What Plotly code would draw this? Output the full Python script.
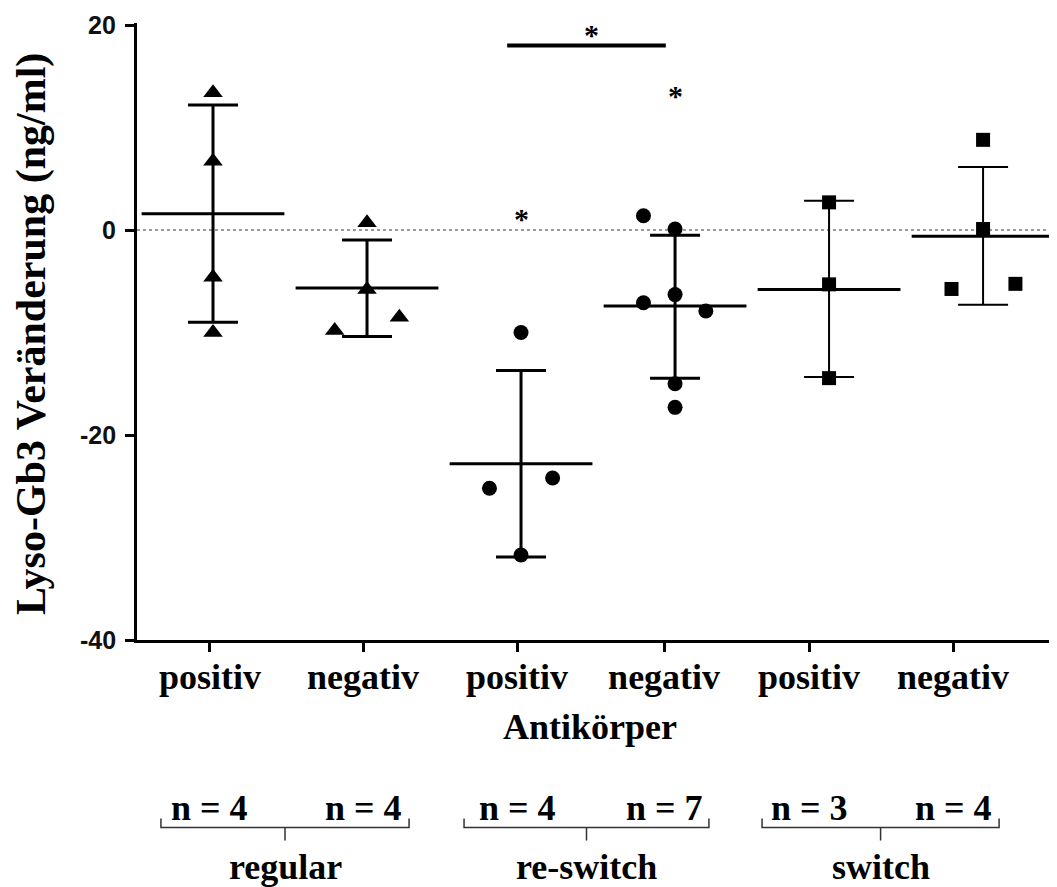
import plotly.graph_objects as go

# ---- data ----
antibody = ["positiv", "negativ", "positiv", "negativ", "positiv", "negativ"]
cohort = ["regular", "re-switch", "switch"]
n_counts = [4, 4, 4, 7, 3, 4]

reg_pos = [13.4, 6.7, -4.6, -10.0]
reg_neg = [0.7, -5.8, -8.5, -9.8]
rsw_pos = [-10.0, -25.2, -24.2, -31.7]
rsw_neg = [1.4, 0.1, -6.3, -7.1, -7.9, -15.0, -17.3]
sw_pos = [2.7, -5.3, -14.45]
sw_neg = [8.8, 0.1, -5.75, -5.25]

# horizontal scatter offsets of points within a column
reg_pos_dx = [0, 0, 0, 0]
reg_neg_dx = [0, 0, 0.21, -0.21]
rsw_pos_dx = [0, -0.205, 0.205, 0]
rsw_neg_dx = [-0.205, 0, 0, -0.205, 0.2, 0, 0]
sw_pos_dx = [0, 0, 0]
sw_neg_dx = [0, 0, -0.205, 0.21]

means = [1.6, -5.65, -22.8, -7.4, -5.8, -0.6]
sd_hi = [12.2, -0.97, -13.7, -0.5, 2.85, 6.16]
sd_lo = [-9.0, -10.4, -31.9, -14.45, -14.35, -7.3]

y_ticks = [-40, -20, 0, 20]

# ---- layout helpers ----
tick_pos = [-0.02, 0.974, 1.974, 2.929, 3.87, 4.805]
bracket_spans = [(-0.338, 1.273), (1.63, 3.22), (3.565, 5.104)]

series = [reg_pos, reg_neg, rsw_pos, rsw_neg, sw_pos, sw_neg]
offsets = [reg_pos_dx, reg_neg_dx, rsw_pos_dx, rsw_neg_dx, sw_pos_dx, sw_neg_dx]
symbols = ["triangle-up", "triangle-up", "circle", "circle", "square", "square"]
sizes = [17, 17, 15, 15, 14, 14]
bar_w = [3, 3, 3, 3, 2, 2]

fig = go.Figure()

for i in range(6):
    fig.add_trace(go.Scatter(
        x=[i + d for d in offsets[i]], y=series[i], mode="markers",
        marker=dict(symbol=symbols[i], size=sizes[i], color="black"),
        showlegend=False, cliponaxis=False))

for i in range(6):
    fig.add_trace(go.Scatter(
        x=[i], y=[means[i]], mode="markers",
        marker=dict(symbol="line-ew", size=102, color="black",
                    line=dict(width=3, color="black")),
        error_y=dict(type="data", symmetric=False,
                     array=[sd_hi[i] - means[i]],
                     arrayminus=[means[i] - sd_lo[i]],
                     width=25, thickness=bar_w[i], color="black"),
        showlegend=False, cliponaxis=False))

# zero reference line
fig.add_shape(type="line", xref="paper", yref="y", x0=0, x1=1, y0=0, y1=0,
              line=dict(color="#999999", width=2, dash="dot"), layer="below")

# significance bar and stars
fig.add_shape(type="line", xref="x", yref="y", x0=1.91, x1=2.94, y0=18.0, y1=18.0,
              line=dict(color="black", width=4))
star_font = dict(family="Liberation Serif", size=30, color="black", weight="bold")
for sx, sy in [(2.46, 19.1), (3.0, 13.1), (2.0, 1.1)]:
    fig.add_annotation(x=sx, y=sy, xref="x", yref="y", text="*", showarrow=False,
                       font=star_font, yanchor="middle")

serif = "Liberation Serif"
big = dict(family=serif, size=36, color="black", weight="bold")

# y tick labels
for v in y_ticks:
    fig.add_annotation(x=-0.0207, y=v, xref="paper", yref="y", text=str(v),
                       showarrow=False, xanchor="right", yanchor="middle",
                       font=dict(family="Liberation Sans", size=25, color="#111111", weight="bold"))

# x title
fig.add_annotation(x=2.45, y=-0.1415, xref="x", yref="paper", text="Antikörper",
                   showarrow=False, font=big, yanchor="middle")

# n labels
for i in range(6):
    fig.add_annotation(x=tick_pos[i], y=-0.273, xref="x", yref="paper",
                       text=f"n = {n_counts[i]}", showarrow=False, font=big,
                       yanchor="middle")

# brackets and cohort labels
for k, (a, b) in enumerate(bracket_spans):
    c = (a + b) / 2
    fig.add_shape(type="path", xref="x", yref="paper",
                  path=f"M {a},-0.2894 L {a},-0.304 L {b},-0.304 L {b},-0.2894",
                  line=dict(color="#333333", width=1.5))
    fig.add_shape(type="line", xref="x", yref="paper", x0=c, x1=c, y0=-0.304, y1=-0.325,
                  line=dict(color="#333333", width=1.5))
    fig.add_annotation(x=c, y=-0.3675, xref="x", yref="paper", text=cohort[k],
                       showarrow=False, font=big, yanchor="middle")

# y title
fig.add_annotation(x=-0.114, y=0.496, xref="paper", yref="paper",
                   text="Lyso-Gb3 Veränderung (ng/ml)", textangle=-90,
                   showarrow=False, font=dict(family=serif, size=42, color="black", weight="bold"),
                   xanchor="center", yanchor="middle")

fig.update_xaxes(range=[-0.4935, 5.48], showgrid=False, zeroline=False,
                 showline=True, linecolor="black", linewidth=3,
                 tickmode="array", tickvals=tick_pos, ticktext=antibody,
                 ticks="outside", ticklen=9, tickwidth=3, tickcolor="black",
                 tickfont=big, ticklabelstandoff=-6)
fig.update_yaxes(range=[-40, 20.2], showgrid=False, zeroline=False,
                 showline=True, linecolor="black", linewidth=3,
                 tickmode="array", tickvals=y_ticks, showticklabels=False,
                 ticks="outside", ticklen=9, tickwidth=3, tickcolor="black")

# page body has an 8px margin, so the figure is 8px smaller and margins shifted
fig.update_layout(width=1049, height=879, margin=dict(l=129, r=0, t=15, b=247),
                  plot_bgcolor="white", paper_bgcolor="white", showlegend=False)

fig.write_html("out.html")
